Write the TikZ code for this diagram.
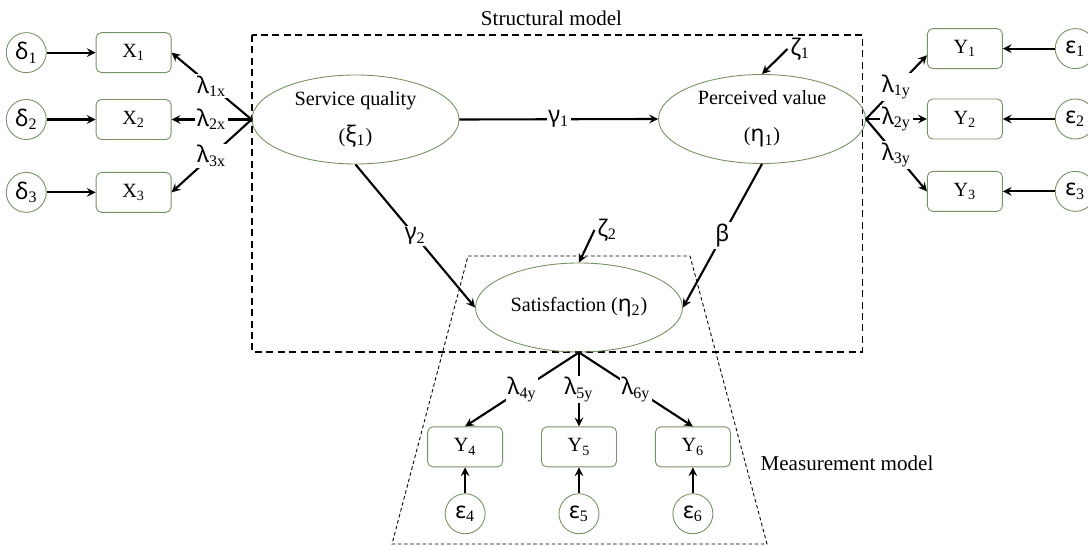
\documentclass[tikz,border=0pt]{standalone}
\usepackage{fontspec}
\setmainfont{Liberation Serif}
\newfontfamily\gkfont{Noto Sans}
\usepackage{tikz}
\usetikzlibrary{arrows, positioning, shapes.geometric}

\definecolor{boxgreen}{RGB}{118,145,98}
\newcommand{\gsub}[2]{{\fontsize{13}{15}\selectfont{\gkfont #1}\textsubscript{#2}}}

\begin{document}
\begin{tikzpicture}[
            > = stealth,
            line width = 1.2pt,
            node distance = 1cm
        ]

        \tikzstyle{latent}=[
            ellipse,
            draw = boxgreen,
            line width = 0.5pt,
            minimum width = 4.14cm,
            minimum height = 1.78cm,
            inner sep = 0pt,
            align = center,
            font = \fontsize{11.5}{14}\selectfont
        ]
        \tikzstyle{indicator}=[
            rectangle,
            rounded corners = 3pt,
            draw = boxgreen,
            line width = 0.5pt,
            minimum width = 1.5cm,
            minimum height = 0.8cm,
            font = \fontsize{11.5}{14}\selectfont
        ]
        \tikzstyle{error}=[
            circle,
            draw = boxgreen,
            line width = 0.5pt,
            minimum size = 0.8cm,
            inner sep = 0pt
        ]
        \tikzset{coef/.style={fill = white, inner sep = 1pt}}
        \tikzset{frametitle/.style={font = \fontsize{12}{14}\selectfont}}

        \useasboundingbox (0,0) rectangle (21.76,-10.92);

        % model frames
        \draw[line width = 0.6pt, dash pattern = on 4pt off 2.5pt] (5.04,-0.70) rectangle (17.25,-7.04);
        \draw[line width = 0.5pt, dash pattern = on 2pt off 1.5pt] (9.36,-5.12) -- (13.80,-5.12) -- (15.34,-10.88) -- (7.84,-10.88) -- cycle;
        \node[frametitle] (structural) at (11.03,-0.36) {Structural model};
        \node[frametitle] (measurement) at (16.94,-9.26) {Measurement model};

        % latent variables
        \node[latent] (sq) at (7.11,-2.39) {Service quality\\[7pt](\gsub{ξ}{1})};
        \node[latent] (pv) at (15.24,-2.38) {Perceived value\\[7pt](\gsub{η}{1})};
        \node[latent] (sat) at (11.58,-6.15) {Satisfaction (\gsub{η}{2})};

        % exogenous indicators
        \node[indicator] (x2) [left=1.6cm of sq] {X\textsubscript{2}};
        \node[indicator] (x1) [above=0.52cm of x2] {X\textsubscript{1}};
        \node[indicator] (x3) [below=0.64cm of x2] {X\textsubscript{3}};
        \node[error] (d1) [left=0.98cm of x1] {\gsub{δ}{1}};
        \node[error] (d2) [left=0.98cm of x2] {\gsub{δ}{2}};
        \node[error] (d3) [left=0.98cm of x3] {\gsub{δ}{3}};

        % endogenous indicators
        \node[indicator] (y2) [right=1.22cm of pv] {Y\textsubscript{2}};
        \node[indicator] (y1) [above=0.59cm of y2] {Y\textsubscript{1}};
        \node[indicator] (y3) [below=0.63cm of y2] {Y\textsubscript{3}};
        \node[error] (e1) [right=1.04cm of y1] {\gsub{ε}{1}};
        \node[error] (e2) [right=1.04cm of y2] {\gsub{ε}{2}};
        \node[error] (e3) [right=1.04cm of y3] {\gsub{ε}{3}};

        \node[indicator] (y5) [below=1.48cm of sat] {Y\textsubscript{5}};
        \node[indicator] (y4) [left=0.76cm of y5] {Y\textsubscript{4}};
        \node[indicator] (y6) [right=0.76cm of y5] {Y\textsubscript{6}};
        \node[error] (e4) [below=0.52cm of y4] {\gsub{ε}{4}};
        \node[error] (e5) [below=0.52cm of y5] {\gsub{ε}{5}};
        \node[error] (e6) [below=0.52cm of y6] {\gsub{ε}{6}};

        % disturbances
        \node[inner sep = 1pt] (z1) at (16.0,-0.98) {\gsub{ζ}{1}};
        \node[inner sep = 1pt] (z2) at (12.14,-4.60) {\gsub{ζ}{2}};

        % error terms
        \path[->] (d1) edge (x1);
        \path[->] (d2) edge (x2);
        \path[->] (d3) edge (x3);
        \path[->] (e1) edge (y1);
        \path[->] (e2) edge (y2);
        \path[->] (e3) edge (y3);
        \path[->] (e4) edge (y4);
        \path[->] (e5) edge (y5);
        \path[->] (e6) edge (y6);
        \path[->] (z1.west) edge (pv.north);
        \path[->] (z2.west) edge (sat.north);

        % loadings
        \path[->] (sq.west) edge node[coef] {\gsub{λ}{1x}} (x1.east);
        \path[->] (sq.west) edge node[coef] {\gsub{λ}{2x}} (x2.east);
        \path[->] (sq.west) edge node[coef] {\gsub{λ}{3x}} (x3.east);
        \path[->] (pv.east) edge node[coef] {\gsub{λ}{1y}} (y1.190);
        \path[->] (pv.east) edge node[coef] {\gsub{λ}{2y}} (y2.west);
        \path[->] (pv.east) edge node[coef] {\gsub{λ}{3y}} (y3.west);
        \path[->] (sat.south) edge node[coef] {\gsub{λ}{4y}} (y4.north);
        \path[->] (sat.south) edge node[coef] {\gsub{λ}{5y}} (y5.north);
        \path[->] (sat.south) edge node[coef] {\gsub{λ}{6y}} (y6.north);

        % structural paths
        \path[->] (sq.east) edge node[coef] {\gsub{γ}{1}} (pv.west);
        \path[->] (sq.south) edge node[coef] {\gsub{γ}{2}} (sat.west);
        \path[->] (pv.south) edge node[coef] {{\fontsize{13}{15}\selectfont\gkfont β}} (sat.east);

    \end{tikzpicture}
\end{document}
